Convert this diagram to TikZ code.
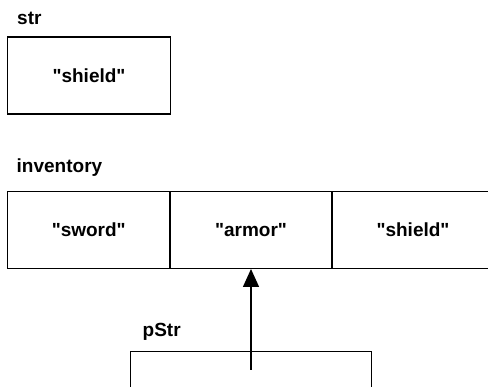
\documentclass[tikz,border=0pt]{standalone}
\usepackage{fontspec}
\newfontfamily\lab{Liberation Sans}
\usetikzlibrary{arrows.meta}
\tikzset{labfont/.style={font=\lab\bfseries\fontsize{19}{23}\selectfont}}
\begin{document}
\begin{tikzpicture}[x=1pt,y=-1pt,
  cell/.style={draw=black,line width=1.4pt,rectangle,inner sep=0pt,
    minimum width=162.5pt,minimum height=76.6pt,labfont},
  boxlabel/.style={anchor=base west,inner sep=0pt,labfont},
  ptr/.style={line width=1.4pt,-{Triangle[length=18pt,width=16pt]}}]
\useasboundingbox (0,0) rectangle (488,387);
\fill[white] (0,0) rectangle (488,387);
\clip (0,0) rectangle (488,387);
% str
\node[boxlabel] (strlab) at (17,25) {str};
\node[cell,minimum width=163pt,minimum height=77pt] (strbox) at (89,75.5) {"shield"};
% inventory
\node[boxlabel] (invlab) at (16.5,173) {inventory};
\node[cell] (c0) at (88.75,230) {"sword"};
\node[cell] (c1) at (251,230) {"armor"};
\node[cell] (c2) at (413,230) {"shield"};
% pStr
\node[boxlabel] (plab) at (142.5,337) {pStr};
\node[cell,minimum width=241pt,minimum height=77pt] (pbox) at (251,390) {};
\coordinate (pstart) at (251,370);
\draw[ptr] (pstart) -- (c1.south);
\end{tikzpicture}
\end{document}
